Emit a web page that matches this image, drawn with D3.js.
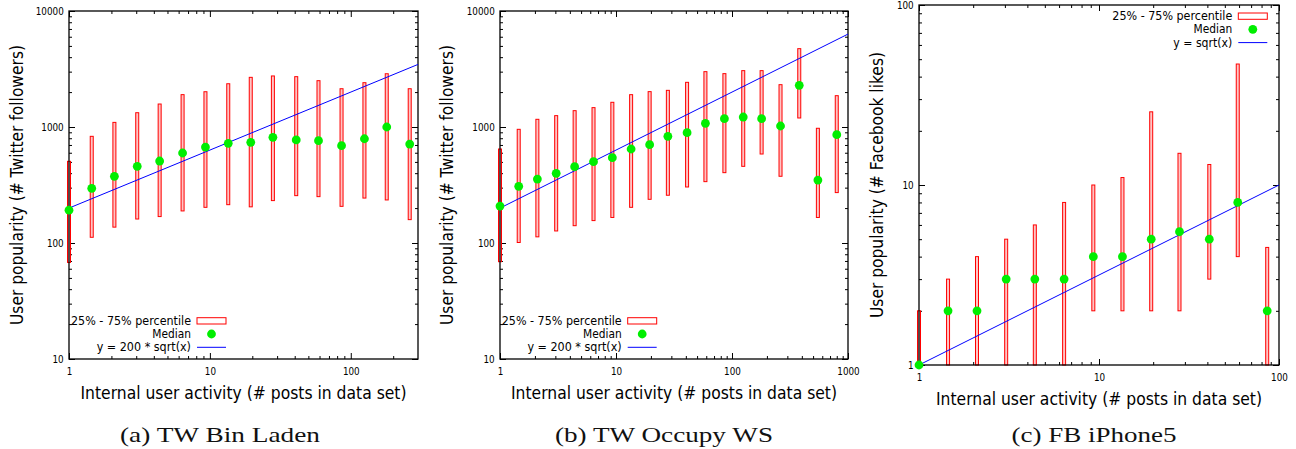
<!DOCTYPE html>
<html>
<head>
<meta charset="utf-8">
<script src="https://cdn.jsdelivr.net/npm/d3@7"></script>
<style>
  body { margin: 0; background: #fff; }
  svg { display: block; }
  .tick text { font-family: "DejaVu Sans", sans-serif; font-size: 10px; fill: #000; }
  .tick line { stroke: #000; stroke-width: 1; }
</style>
</head>
<body>
<svg id="chart" width="1296" height="449"></svg>
<script>
// bin centres (# posts), shared by all three panels
const binX = [1, 1.45, 2.1, 3.05, 4.4, 6.4, 9.3, 13.5, 19.5, 28, 41, 59, 86, 125, 180, 262, 380, 550, 800];

// (a) TW Bin Laden
const aMedian = [192, 296, 376, 458, 509, 597, 672, 723, 738, 815, 773, 762, 690, 792, 1000, 713];
const aLow    = [68, 112, 137, 161, 169, 189, 203, 214, 205, 232, 256, 251, 207, 244, 235, 159];
const aHigh   = [506, 831, 1096, 1328, 1578, 1901, 2014, 2360, 2680, 2754, 2716, 2508, 2138, 2410, 2878, 2138];

// (b) TW Occupy WS
const bMedian = [208, 308, 356, 399, 455, 502, 544, 646, 704, 831, 893, 1076, 1180, 1219, 1180, 1020, 2287, 349, 859];
const bLow    = [69, 101, 113, 127, 141, 156, 166, 203, 238, 258, 304, 338, 404, 458, 585, 376, 1196, 166, 272];
const bHigh   = [646, 955, 1165, 1253, 1383, 1469, 1633, 1900, 2018, 2070, 2427, 3000, 2884, 3061, 3061, 2317, 4735, 975, 1862];

// (c) FB iPhone5
const cMedian = [1, 2, 2, 3, 3, 3, 4, 4, 5, 5.5, 5, 8, 2];
const cLow    = [1, 1, 1, 1, 1, 1, 2, 2, 2, 2, 3, 4, 1];
const cHigh   = [2, 3, 4, 5, 6, 8, 10, 11, 25.5, 15, 13, 47, 4.5];

// tick labels
const xTicksAC = [1, 10, 100];
const xTicksB  = [1, 10, 100, 1000];
const yTicksAB = [10, 100, 1000, 10000];
const yTicksC  = [1, 10, 100];

// fit lines y = k * sqrt(x)
const fitCoef   = [200, 200, 1];
const fitLabels = ["y = 200 * sqrt(x)", "y = 200 * sqrt(x)", "y = sqrt(x)"];

const captions = ["(a) TW Bin Laden", "(b) TW Occupy WS", "(c) FB iPhone5"];
const yTitles  = ["User popularity (# Twitter followers)", "User popularity (# Twitter followers)", "User popularity (# Facebook likes)"];
const xTitle   = "Internal user activity (# posts in data set)";

const panels = [
  { n: 16, med: aMedian, lo: aLow, hi: aHigh, xd: [1, 300], yd: [10, 10000], xt: xTicksAC, yt: yTicksAB,
    L: 69, R: 418, T: 11, B: 359, cap: 220, capW: 200, yl: 17, leg: { x: 191, y: 320.7 } },
  { n: 19, med: bMedian, lo: bLow, hi: bHigh, xd: [1, 1000], yd: [10, 10000], xt: xTicksB, yt: yTicksAB,
    L: 500, R: 848, T: 11, B: 359, cap: 664, capW: 218, yl: 447, leg: { x: 621.7, y: 320.7 } },
  { n: 13, med: cMedian, lo: cLow, hi: cHigh, xd: [1, 100], yd: [1, 100], xt: xTicksAC, yt: yTicksC,
    L: 919, R: 1279, T: 5, B: 365, cap: 1094, capW: 165, yl: 877, leg: { x: 1232.3, y: 16 } }
];

const svg = d3.select("#chart");
const sans = "DejaVu Sans, sans-serif";

function minorTicks(domain) {
  const out = [];
  for (let d = 1e-3; d < domain[1] * 10; d *= 10) {
    for (let k = 2; k <= 9; k++) {
      const v = d * k;
      if (v > domain[0] && v < domain[1]) out.push(v);
    }
  }
  return out;
}

panels.forEach((p, i) => {
  const x = d3.scaleLog().domain(p.xd).range([p.L, p.R]);
  const y = d3.scaleLog().domain(p.yd).range([p.B, p.T]);
  const g = svg.append("g");
  const fmt = d3.format("d");

  // major ticks with labels
  g.append("g").attr("transform", `translate(0,${p.B})`)
    .call(d3.axisBottom(x).tickValues(p.xt).tickFormat(fmt).tickSize(-6).tickSizeOuter(0).tickPadding(9));
  g.append("g").attr("transform", `translate(${p.L},0)`)
    .call(d3.axisLeft(y).tickValues(p.yt).tickFormat(fmt).tickSize(-6).tickSizeOuter(0).tickPadding(6));
  g.append("g").attr("transform", `translate(0,${p.T})`)
    .call(d3.axisTop(x).tickValues(p.xt).tickFormat("").tickSize(-6).tickSizeOuter(0));
  g.append("g").attr("transform", `translate(${p.R},0)`)
    .call(d3.axisRight(y).tickValues(p.yt).tickFormat("").tickSize(-6).tickSizeOuter(0));

  // minor ticks
  const mx = minorTicks(p.xd), my = minorTicks(p.yd);
  g.append("g").attr("transform", `translate(0,${p.B})`)
    .call(d3.axisBottom(x).tickValues(mx).tickFormat("").tickSize(-3).tickSizeOuter(0));
  g.append("g").attr("transform", `translate(0,${p.T})`)
    .call(d3.axisTop(x).tickValues(mx).tickFormat("").tickSize(-3).tickSizeOuter(0));
  g.append("g").attr("transform", `translate(${p.L},0)`)
    .call(d3.axisLeft(y).tickValues(my).tickFormat("").tickSize(-3).tickSizeOuter(0));
  g.append("g").attr("transform", `translate(${p.R},0)`)
    .call(d3.axisRight(y).tickValues(my).tickFormat("").tickSize(-3).tickSizeOuter(0));

  g.selectAll(".domain").remove();
  g.selectAll(".tick text").attr("transform", "scale(0.88,1)");

  const xs = binX.slice(0, p.n);

  // 25% - 75% boxes
  g.selectAll("rect.box").data(xs).join("rect").attr("class", "box")
    .attr("x", d => x(d) - 1.5).attr("width", 3)
    .attr("y", (d, j) => y(p.hi[j]))
    .attr("height", (d, j) => y(p.lo[j]) - y(p.hi[j]))
    .attr("fill", "#ffc4c4").attr("stroke", "#ff0000").attr("stroke-width", 1);

  // frame
  g.append("rect").attr("x", p.L).attr("y", p.T)
    .attr("width", p.R - p.L).attr("height", p.B - p.T)
    .attr("fill", "none").attr("stroke", "#000").attr("stroke-width", 1.3);

  // fit line
  const k = fitCoef[i];
  g.append("path")
    .datum(p.xd)
    .attr("d", d3.line().x(d => x(d)).y(d => y(k * Math.sqrt(d))))
    .attr("fill", "none").attr("stroke", "#0000ff").attr("stroke-width", 1);

  // medians
  g.selectAll("circle.med").data(xs).join("circle").attr("class", "med")
    .attr("cx", d => x(d)).attr("cy", (d, j) => y(p.med[j])).attr("r", 4.4)
    .attr("fill", "#00ee00");

  // legend
  const lg = g.append("g").attr("font-family", sans).attr("font-size", 11.5).attr("fill", "#000");
  const rows = [
    { t: "25% - 75% percentile", w: 120 },
    { t: "Median", w: 38.7 },
    { t: fitLabels[i], w: i === 2 ? 59 : 94.3 }
  ];
  rows.forEach((r, j) => {
    const yy = p.leg.y + j * 13.3;
    lg.append("text").attr("x", p.leg.x).attr("y", yy).attr("dy", "0.35em")
      .attr("text-anchor", "end").attr("textLength", r.w).attr("lengthAdjust", "spacingAndGlyphs")
      .text(r.t);
  });
  const sx0 = p.leg.x + 6, sx1 = p.leg.x + 35;
  lg.append("rect").attr("x", sx0).attr("y", p.leg.y - 3).attr("width", sx1 - sx0).attr("height", 6.3)
    .attr("fill", "none").attr("stroke", "#ff0000").attr("stroke-width", 1);
  lg.append("circle").attr("cx", (sx0 + sx1) / 2).attr("cy", p.leg.y + 13.3).attr("r", 4.4).attr("fill", "#00ee00");
  lg.append("line").attr("x1", sx0).attr("x2", sx1).attr("y1", p.leg.y + 26.6).attr("y2", p.leg.y + 26.6)
    .attr("stroke", "#0000ff").attr("stroke-width", 1);

  // axis titles
  const xc = (p.L + p.R) / 2;
  g.append("text").attr("x", xc).attr("y", p.B + 34).attr("dy", "0.35em")
    .attr("text-anchor", "middle").attr("font-family", sans).attr("font-size", 17)
    .attr("textLength", 326).attr("lengthAdjust", "spacingAndGlyphs").text(xTitle);
  g.append("text").attr("transform", `translate(${p.yl},185) rotate(-90)`).attr("dy", "0.35em")
    .attr("text-anchor", "middle").attr("font-family", sans).attr("font-size", 17)
    .attr("textLength", i === 2 ? 266 : 280).attr("lengthAdjust", "spacingAndGlyphs").text(yTitles[i]);

  // caption
  g.append("text").attr("x", p.cap).attr("y", 442).attr("text-anchor", "middle")
    .attr("font-family", "Liberation Serif, serif").attr("font-size", 22).attr("fill", "#111")
    .attr("textLength", p.capW).attr("lengthAdjust", "spacingAndGlyphs").text(captions[i]);
});
</script>
</body>
</html>
